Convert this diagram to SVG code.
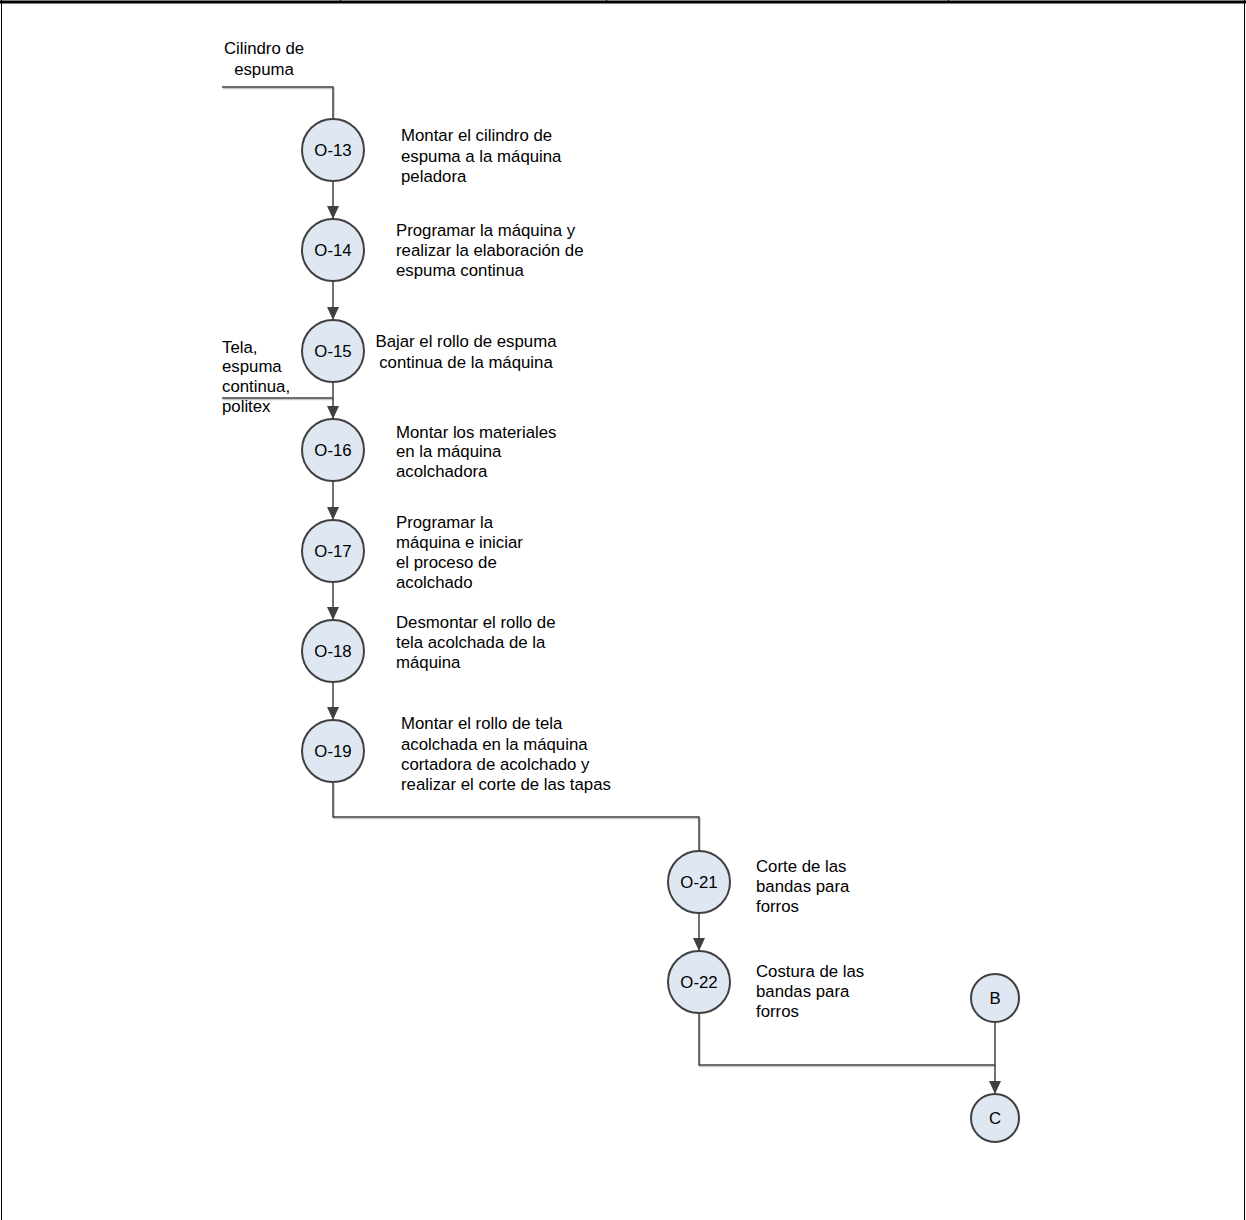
<svg xmlns="http://www.w3.org/2000/svg" width="1246" height="1220" viewBox="0 0 1246 1220">
  <defs>
    <marker id="arrow" viewBox="0 0 13 12" refX="13" refY="6" markerWidth="13" markerHeight="12" markerUnits="userSpaceOnUse" orient="auto">
      <path d="M0,0 L13,6 L0,12 Z" fill="#404040"/>
    </marker>
    <style>
      .frame { fill: none; stroke: #000; stroke-width: 1; }
      .node circle { fill: #dfe8f2; stroke: #404040; stroke-width: 2; }
      .id { font-family: "Liberation Sans", Arial, sans-serif; font-size: 16.8px; fill: #000; text-anchor: middle; }
      .label { font-family: "Liberation Sans", Arial, sans-serif; font-size: 16.8px; fill: #000; }
      .mid { text-anchor: middle; }
      .conn { fill: none; stroke: #404040; stroke-width: 1.5; }
      .shadow { fill: none; stroke: #c8c8c8; stroke-width: 1.5; }
    </style>
  </defs>

  <rect width="1246" height="1220" fill="#fff"/>

  <!-- page frame -->
  <g id="frame">
    <line x1="0" y1="2" x2="1246" y2="2" stroke="#000" stroke-width="3"/>
    <line x1="1.5" y1="0" x2="1.5" y2="1220" class="frame"/>
    <line x1="1244.5" y1="0" x2="1244.5" y2="1220" class="frame"/>
    <line x1="340.5" y1="0" x2="340.5" y2="3" class="frame"/>
    <line x1="606.5" y1="0" x2="606.5" y2="3" class="frame"/>
    <line x1="948.5" y1="0" x2="948.5" y2="3" class="frame"/>
  </g>

  <!-- connectors -->
  <g id="connectors">
    <g transform="translate(1,1.5)">
      <polyline class="shadow" points="222,87 333,87 333,119"/>
      <line class="shadow" x1="222" y1="398" x2="333" y2="398"/>
      <polyline class="shadow" points="333,782 333,817 699,817 699,851"/>
      <polyline class="shadow" points="699,1013 699,1065 995,1065"/>
    </g>
    <polyline class="conn" points="222,87 333,87 333,119"/>
    <line class="conn" x1="333" y1="181" x2="333" y2="219" marker-end="url(#arrow)"/>
    <line class="conn" x1="333" y1="281" x2="333" y2="320" marker-end="url(#arrow)"/>
    <line class="conn" x1="333" y1="382" x2="333" y2="419" marker-end="url(#arrow)"/>
    <line class="conn" x1="222" y1="398" x2="333" y2="398"/>
    <line class="conn" x1="333" y1="481" x2="333" y2="520" marker-end="url(#arrow)"/>
    <line class="conn" x1="333" y1="582" x2="333" y2="620" marker-end="url(#arrow)"/>
    <line class="conn" x1="333" y1="682" x2="333" y2="720" marker-end="url(#arrow)"/>
    <polyline class="conn" points="333,782 333,817 699,817 699,851"/>
    <line class="conn" x1="699" y1="913" x2="699" y2="951" marker-end="url(#arrow)"/>
    <polyline class="conn" points="699,1013 699,1065 995,1065"/>
    <line class="conn" x1="995" y1="1022" x2="995" y2="1094" marker-end="url(#arrow)"/>
  </g>

  <!-- input labels -->
  <g id="input-cilindro">
    <text class="label mid" x="264" y="54">Cilindro de</text>
    <text class="label mid" x="264" y="75">espuma</text>
  </g>
  <g id="input-tela">
    <text class="label" x="222" y="353">Tela,</text>
    <text class="label" x="222" y="372">espuma</text>
    <text class="label" x="222" y="392">continua,</text>
    <text class="label" x="222" y="412">politex</text>
  </g>

  <!-- operations -->
  <g id="O-13" class="node">
    <circle cx="333" cy="150" r="31"/>
    <text class="id" x="333" y="156">O-13</text>
    <text class="label" x="401" y="141">Montar el cilindro de</text>
    <text class="label" x="401" y="162">espuma a la máquina</text>
    <text class="label" x="401" y="182">peladora</text>
  </g>
  <g id="O-14" class="node">
    <circle cx="333" cy="250" r="31"/>
    <text class="id" x="333" y="256">O-14</text>
    <text class="label" x="396" y="236">Programar la máquina y</text>
    <text class="label" x="396" y="256">realizar la elaboración de</text>
    <text class="label" x="396" y="276">espuma continua</text>
  </g>
  <g id="O-15" class="node">
    <circle cx="333" cy="351" r="31"/>
    <text class="id" x="333" y="357">O-15</text>
    <text class="label mid" x="466" y="347">Bajar el rollo de espuma</text>
    <text class="label mid" x="466" y="368">continua de la máquina</text>
  </g>
  <g id="O-16" class="node">
    <circle cx="333" cy="450" r="31"/>
    <text class="id" x="333" y="456">O-16</text>
    <text class="label" x="396" y="438">Montar los materiales</text>
    <text class="label" x="396" y="457">en la máquina</text>
    <text class="label" x="396" y="477">acolchadora</text>
  </g>
  <g id="O-17" class="node">
    <circle cx="333" cy="551" r="31"/>
    <text class="id" x="333" y="557">O-17</text>
    <text class="label" x="396" y="528">Programar la</text>
    <text class="label" x="396" y="548">máquina e iniciar</text>
    <text class="label" x="396" y="568">el proceso de</text>
    <text class="label" x="396" y="588">acolchado</text>
  </g>
  <g id="O-18" class="node">
    <circle cx="333" cy="651" r="31"/>
    <text class="id" x="333" y="657">O-18</text>
    <text class="label" x="396" y="628">Desmontar el rollo de</text>
    <text class="label" x="396" y="648">tela acolchada de la</text>
    <text class="label" x="396" y="668">máquina</text>
  </g>
  <g id="O-19" class="node">
    <circle cx="333" cy="751" r="31"/>
    <text class="id" x="333" y="757">O-19</text>
    <text class="label" x="401" y="729">Montar el rollo de tela</text>
    <text class="label" x="401" y="750">acolchada en la máquina</text>
    <text class="label" x="401" y="770">cortadora de acolchado y</text>
    <text class="label" x="401" y="790">realizar el corte de las tapas</text>
  </g>
  <g id="O-21" class="node">
    <circle cx="699" cy="882" r="31"/>
    <text class="id" x="699" y="888">O-21</text>
    <text class="label" x="756" y="872">Corte de las</text>
    <text class="label" x="756" y="892">bandas para</text>
    <text class="label" x="756" y="912">forros</text>
  </g>
  <g id="O-22" class="node">
    <circle cx="699" cy="982" r="31"/>
    <text class="id" x="699" y="988">O-22</text>
    <text class="label" x="756" y="977">Costura de las</text>
    <text class="label" x="756" y="997">bandas para</text>
    <text class="label" x="756" y="1017">forros</text>
  </g>

  <!-- off-page connectors -->
  <g id="B" class="node">
    <circle cx="995" cy="998" r="24"/>
    <text class="id" x="995" y="1004">B</text>
  </g>
  <g id="C" class="node">
    <circle cx="995" cy="1118" r="24"/>
    <text class="id" x="995" y="1124">C</text>
  </g>
</svg>
